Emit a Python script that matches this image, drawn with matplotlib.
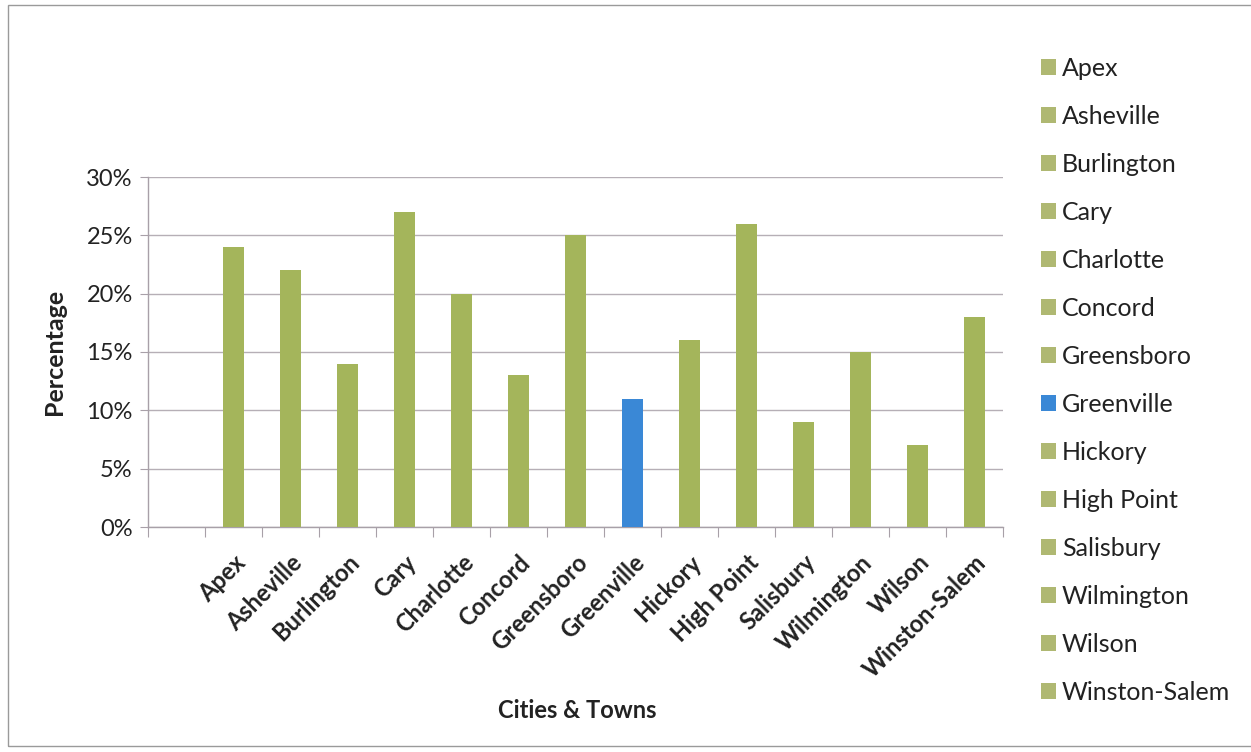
import matplotlib
matplotlib.use("Agg")
import matplotlib.pyplot as plt
from matplotlib.patches import Rectangle, Patch

cities = ["Apex", "Asheville", "Burlington", "Cary", "Charlotte", "Concord",
          "Greensboro", "Greenville", "Hickory", "High Point", "Salisbury",
          "Wilmington", "Wilson", "Winston-Salem"]
values = [24, 22, 14, 27, 20, 13, 25, 11, 16, 26, 9, 15, 7, 18]
highlight = "Greenville"
yticks = [0, 5, 10, 15, 20, 25, 30]

GREEN = "#A4B55B"
GREEN_LEG = "#AFB872"
BLUE = "#3A88D6"

plt.rcParams['font.family'] = ['Lato', 'DejaVu Sans']

W, H = 1251, 752
fig = plt.figure(figsize=(W / 100, H / 100), dpi=100)
fig.patch.set_facecolor("white")

# outer chart border
fig.add_artist(Rectangle((8 / W, 1 - 746 / H), (W + 10 - 8) / W, (746 - 5) / H,
                         transform=fig.transFigure, fill=False,
                         edgecolor="#9a9a9a", lw=1.0))

left, right, top, bottom = 148, 1003, 177, 527
ax = fig.add_axes([left / W, 1 - bottom / H, (right - left) / W, (bottom - top) / H])

handles = []
for i, (c, v) in enumerate(zip(cities, values)):
    col = BLUE if c == highlight else GREEN
    ax.bar(i + 1, v, width=0.37, color=col, zorder=3)
    handles.append(Patch(facecolor=BLUE if c == highlight else GREEN_LEG, label=c))

ax.set_xlim(-0.5, len(cities) + 0.5)
ax.set_ylim(0, 30)
ax.set_yticks(yticks)
ax.set_yticklabels([f"{t}%" for t in yticks], fontsize=17, color="#222222")

# category boundary ticks
ax.set_xticks([b - 0.5 for b in range(len(cities) + 2)])
ax.set_xticklabels([])
ax.set_xticks(range(1, len(cities) + 1), minor=True)
ax.set_xticklabels(cities, minor=True, rotation=45, ha="right",
                   rotation_mode="anchor", fontsize=17, fontweight="bold",
                   color="#222222")
ax.tick_params(axis="x", which="minor", length=0, pad=17)
ax.tick_params(axis="x", which="major", length=7, color="#a8a0a8", direction="out")
ax.tick_params(axis="y", length=6, color="#a8a0a8", direction="out", pad=5)

ax.grid(axis="y", color="#b6afb6", lw=1.0, zorder=0)
for s in ["top", "right"]:
    ax.spines[s].set_visible(False)
for s in ["left", "bottom"]:
    ax.spines[s].set_color("#a8a0a8")
    ax.spines[s].set_linewidth(1.0)

fig.text(577 / W, 1 - 710 / H, "Cities & Towns", ha="center", va="center",
         fontsize=17, fontweight="bold", color="#222222")
fig.text(55 / W, 1 - 352 / H, "Percentage", ha="center", va="center",
         rotation=90, fontsize=18, fontweight="bold", color="#222222")

fig.legend(handles=handles, loc="upper left",
           bbox_to_anchor=(1018 / W, 1 - 34 / H), frameon=False,
           fontsize=18, labelspacing=1.0, handlelength=0.6,
           handleheight=0.6, handletextpad=0.25, labelcolor="#222222")

fig.savefig("out.png", dpi=100, facecolor="white")
